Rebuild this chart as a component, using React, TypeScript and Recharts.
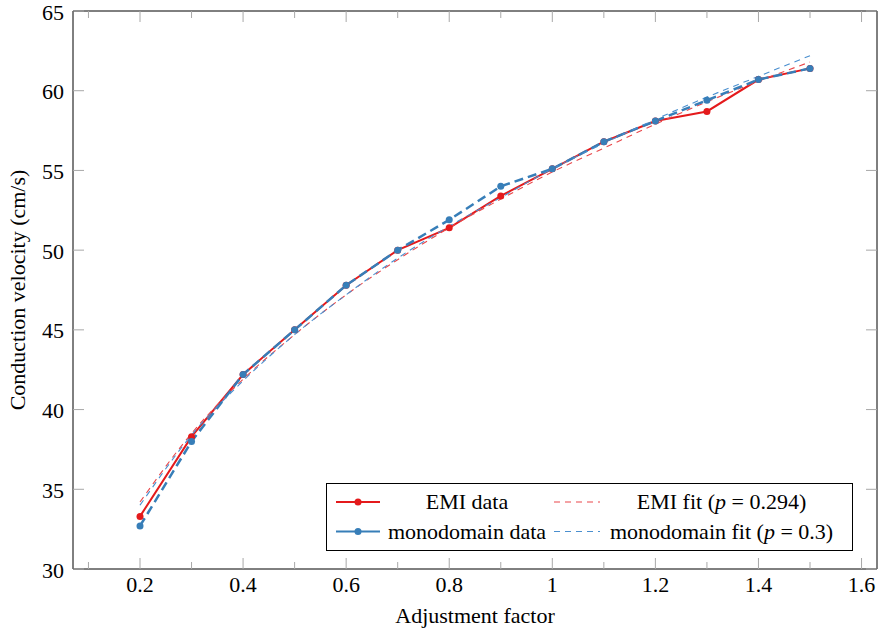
import React from 'react';
import { LineChart, Line, XAxis, YAxis } from 'recharts';

const factors = [0.2, 0.3, 0.4, 0.5, 0.6, 0.7, 0.8, 0.9, 1.0, 1.1, 1.2, 1.3, 1.4, 1.5];
const emiData = [33.3, 38.3, 42.2, 45.0, 47.8, 50.0, 51.4, 53.4, 55.1, 56.8, 58.1, 58.7, 60.7, 61.4];
const monoData = [32.7, 38.0, 42.2, 45.0, 47.8, 50.0, 51.9, 54.0, 55.1, 56.8, 58.1, 59.4, 60.7, 61.4];
const emiFit = [34.2, 38.5, 41.9, 44.7, 47.2, 49.4, 51.4, 53.2, 54.9, 56.4, 57.9, 59.3, 60.6, 61.8];
const monoFit = [34.0, 38.4, 41.8, 44.7, 47.2, 49.5, 51.5, 53.3, 55.1, 56.7, 58.2, 59.6, 60.9, 62.2];

const xTicks = [0.1, 0.2, 0.3, 0.4, 0.5, 0.6, 0.7, 0.8, 0.9, 1.0, 1.1, 1.2, 1.3, 1.4, 1.5, 1.6];
const yTicks = [30, 35, 40, 45, 50, 55, 60, 65];

const RED = '#e41a1c';
const BLUE = '#377eb8';
const RED_FIT = '#e9474a';
const BLUE_FIT = '#4a8fcf';
const TICK = '#a8a8a8';
const FONT = "'Liberation Serif', 'DejaVu Serif', serif";
const FS = 22;

const rows = factors.map((x, i) => ({
  x,
  emi: emiData[i],
  mono: monoData[i],
  emiFit: emiFit[i],
  monoFit: monoFit[i],
}));

const isMajor = (v: number) => Math.round(v * 10) % 2 === 0;
const fmt = (v: number) => {
  const r = Math.round(v * 10) / 10;
  return Number.isInteger(r) ? String(r) : r.toFixed(1);
};

const MARGIN_X = 16;
const BottomTick = (props: any) => {
  const { x, y, payload } = props;
  const v = payload.value as number;
  const axisY = y - MARGIN_X;
  const len = isMajor(v) ? 11 : 7;
  return (
    <g>
      <line x1={x} x2={x} y1={axisY} y2={axisY - len} stroke={TICK} strokeWidth={1} />
      {isMajor(v) ? (
        <text x={x} y={axisY + 23} textAnchor="middle" fontFamily={FONT} fontSize={FS} fill="#000">
          {fmt(v)}
        </text>
      ) : null}
    </g>
  );
};

const TopTick = (props: any) => {
  const { x, y, payload } = props;
  const v = payload.value as number;
  const axisY = y + 5;
  const len = isMajor(v) ? 11 : 7;
  return <line x1={x} x2={x} y1={axisY} y2={axisY + len} stroke={TICK} strokeWidth={1} />;
};

const LeftTick = (props: any) => {
  const { x, y, payload } = props;
  const axisX = x + 9;
  return (
    <g>
      <line x1={axisX} x2={axisX + 11} y1={y} y2={y} stroke={TICK} strokeWidth={1} />
      <text x={axisX - 9} y={y + 8.5} textAnchor="end" fontFamily={FONT} fontSize={FS} fill="#000">
        {payload.value}
      </text>
    </g>
  );
};

const RightTick = (props: any) => {
  const { x, y } = props;
  const axisX = x - 5;
  return <line x1={axisX} x2={axisX - 11} y1={y} y2={y} stroke={TICK} strokeWidth={1} />;
};

const LegendBox = () => {
  const w = 527;
  const h = 68;
  const r1 = 19;
  const r2 = 48.5;
  return (
    <svg
      width={w}
      height={h}
      style={{ position: 'absolute', left: 326, top: 483, background: '#fff' }}
    >
      <rect x={0.5} y={0.5} width={w - 1} height={h - 1} fill="#fff" stroke="#000" strokeWidth={1} />
      <line x1={10} x2={54} y1={r1} y2={r1} stroke={RED} strokeWidth={2} />
      <circle cx={32} cy={r1} r={3.5} fill={RED} />
      <line x1={10} x2={54} y1={r2} y2={r2} stroke={BLUE} strokeWidth={2} />
      <circle cx={32} cy={r2} r={3.5} fill={BLUE} />
      <line x1={228} x2={274} y1={r1} y2={r1} stroke={RED_FIT} strokeWidth={1.1} strokeDasharray="6 5" />
      <line x1={228} x2={274} y1={r2} y2={r2} stroke={BLUE_FIT} strokeWidth={1.1} strokeDasharray="6 5" />
      <g fontFamily={FONT} fontSize={FS} fill="#000" textAnchor="middle">
        <text x={141} y={r1 + 7}>EMI data</text>
        <text x={141} y={r2 + 7}>monodomain data</text>
        <text x={395.5} y={r1 + 7}>
          EMI fit (<tspan fontStyle="italic">p</tspan> = 0.294)
        </text>
        <text x={395.5} y={r2 + 7}>
          monodomain fit (<tspan fontStyle="italic">p</tspan> = 0.3)
        </text>
      </g>
    </svg>
  );
};

export default function App() {
  return (
    <div style={{ position: 'absolute', left: 0, top: 0, width: 883, height: 631, background: '#fff' }}>
      <LineChart
        width={883}
        height={631}
        data={rows}
        margin={{ top: 10, right: 5, bottom: 0, left: 0 }}
      >
        <XAxis
          xAxisId="bottom"
          dataKey="x"
          type="number"
          domain={[0.07, 1.63]}
          ticks={xTicks}
          interval={0}
          height={62}
          tickSize={0}
          tickMargin={MARGIN_X}
          tick={<BottomTick />}
          axisLine={{ stroke: '#000', strokeWidth: 1 }}
          allowDataOverflow
          label={{
            value: 'Adjustment factor',
            position: 'insideBottom',
            offset: 8,
            style: { fontFamily: FONT, fontSize: FS, fill: '#000' },
          }}
        />
        <XAxis
          xAxisId="top"
          orientation="top"
          dataKey="x"
          type="number"
          domain={[0.07, 1.63]}
          ticks={xTicks}
          interval={0}
          height={1}
          tickSize={0}
          tickMargin={5}
          tick={<TopTick />}
          axisLine={{ stroke: '#000', strokeWidth: 1 }}
          allowDataOverflow
        />
        <YAxis
          yAxisId="left"
          type="number"
          domain={[30, 65]}
          ticks={yTicks}
          interval={0}
          width={73}
          tickSize={0}
          tickMargin={9}
          tick={<LeftTick />}
          axisLine={{ stroke: '#000', strokeWidth: 1 }}
          allowDataOverflow
          label={{
            value: 'Conduction velocity (cm/s)',
            angle: -90,
            position: 'insideLeft',
            offset: 0,
            dx: 17,
            style: { fontFamily: FONT, fontSize: FS, fill: '#000', textAnchor: 'middle' },
          }}
        />
        <YAxis
          yAxisId="right"
          orientation="right"
          type="number"
          domain={[30, 65]}
          ticks={yTicks}
          interval={0}
          width={1}
          tickSize={0}
          tickMargin={5}
          tick={<RightTick />}
          axisLine={{ stroke: '#000', strokeWidth: 1 }}
          allowDataOverflow
        />
        <Line
          xAxisId="bottom"
          yAxisId="left"
          dataKey="emi"
          type="linear"
          stroke={RED}
          strokeWidth={2}
          dot={{ r: 3.5, fill: RED, stroke: RED, strokeWidth: 0 }}
          activeDot={false}
          isAnimationActive={false}
        />
        <Line
          xAxisId="bottom"
          yAxisId="left"
          dataKey="emiFit"
          type="monotone"
          stroke={RED_FIT}
          strokeWidth={1.1}
          strokeDasharray="6 5"
          dot={false}
          activeDot={false}
          isAnimationActive={false}
        />
        <Line
          xAxisId="bottom"
          yAxisId="left"
          dataKey="mono"
          type="linear"
          stroke={BLUE}
          strokeWidth={2.5}
          strokeDasharray="9 5"
          dot={{ r: 3.5, fill: BLUE, stroke: BLUE, strokeWidth: 0 }}
          activeDot={false}
          isAnimationActive={false}
        />
        <Line
          xAxisId="bottom"
          yAxisId="left"
          dataKey="monoFit"
          type="monotone"
          stroke={BLUE_FIT}
          strokeWidth={1.1}
          strokeDasharray="6 5"
          dot={false}
          activeDot={false}
          isAnimationActive={false}
        />
      </LineChart>
      <LegendBox />
    </div>
  );
}
